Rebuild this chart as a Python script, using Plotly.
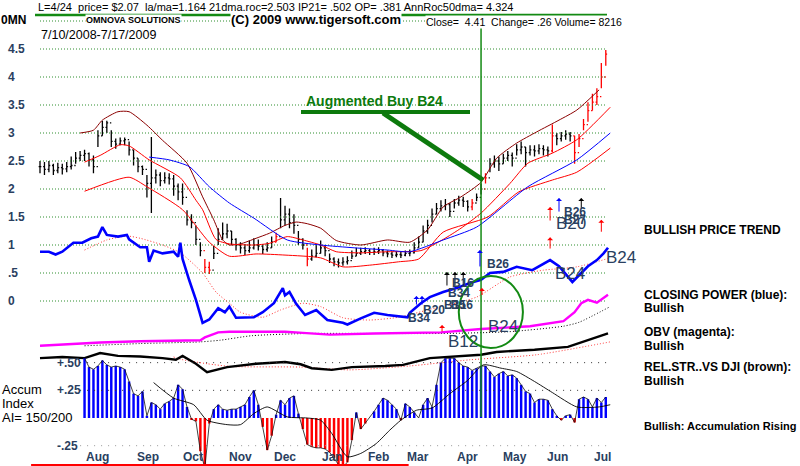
import plotly.graph_objects as go

# ---------------- data ----------------
bar_days = list(range(0, 256, 2))
closes = [2.40,2.35,2.42,2.33,2.38,2.36,2.40,2.42,2.55,2.60,
          2.63,2.52,2.40,2.95,3.10,3.18,2.85,2.80,2.86,2.88,
          2.70,2.55,2.40,2.35,2.10,2.20,2.25,2.15,2.20,2.18,
          2.05,1.95,1.85,1.45,1.40,1.10,0.90,0.60,0.55,0.85,
          1.10,1.20,1.25,1.10,1.00,0.95,0.90,0.95,1.00,0.98,
          0.92,0.95,1.05,1.15,1.45,1.55,1.40,1.35,1.10,1.00,
          0.75,0.80,0.85,0.95,0.90,0.75,0.70,0.68,0.70,0.72,
          0.80,0.85,0.88,0.90,0.87,0.88,0.90,0.86,0.84,0.82,
          0.83,0.82,0.85,0.86,0.95,1.05,1.25,1.35,1.55,1.65,
          1.70,1.72,1.60,1.75,1.80,1.78,1.68,1.75,1.85,2.00,
          2.20,2.45,2.50,2.45,2.55,2.60,2.55,2.70,2.75,2.65,
          2.70,2.68,2.72,2.70,2.68,2.95,2.90,2.95,2.98,2.95,
          2.65,2.90,3.15,3.40,3.55,3.65,4.00,4.41]
highs = [2.50,2.48,2.50,2.45,2.47,2.45,2.48,2.58,2.66,2.68,
         2.70,2.65,2.60,3.05,3.22,3.22,3.05,2.90,2.92,2.92,
         2.85,2.70,2.55,2.42,2.25,2.93,2.35,2.30,2.30,2.28,
         2.25,2.10,2.10,1.62,1.55,1.35,1.05,0.75,0.70,0.98,
         1.30,1.40,1.38,1.25,1.12,1.05,1.02,1.08,1.12,1.10,
         1.02,1.05,1.15,1.22,1.84,1.70,1.65,1.55,1.25,1.12,
         0.95,0.92,1.00,1.08,1.00,0.85,0.78,0.76,0.78,0.80,
         0.90,0.95,0.95,0.96,0.93,0.95,0.96,0.93,0.90,0.88,
         0.89,0.88,0.90,0.92,1.05,1.15,1.35,1.45,1.65,1.75,
         1.80,1.82,1.75,1.82,1.88,1.86,1.80,1.82,1.92,2.10,
         2.28,2.55,2.60,2.58,2.63,2.68,2.65,2.80,2.85,2.75,
         2.78,2.78,2.80,2.78,2.76,3.15,3.00,3.02,3.05,3.02,
         2.95,2.98,3.25,3.55,3.70,3.80,4.25,4.48]
lows = [2.28,2.25,2.30,2.25,2.28,2.26,2.30,2.35,2.45,2.50,
        2.50,2.40,2.28,2.75,2.95,3.00,2.75,2.72,2.78,2.78,
        2.60,2.42,2.30,2.25,1.85,1.57,2.10,2.05,2.10,2.08,
        1.88,1.80,1.72,1.35,1.30,1.00,0.80,0.50,0.48,0.75,
        1.00,1.10,1.12,1.00,0.90,0.85,0.82,0.86,0.92,0.90,
        0.84,0.88,0.95,1.05,1.30,1.35,1.30,1.20,1.00,0.92,
        0.62,0.72,0.78,0.85,0.80,0.68,0.62,0.60,0.63,0.65,
        0.75,0.80,0.82,0.84,0.82,0.82,0.84,0.80,0.78,0.77,
        0.78,0.77,0.80,0.80,0.85,0.95,1.05,1.20,1.40,1.55,
        1.60,1.62,1.50,1.65,1.70,1.68,1.60,1.62,1.78,1.90,
        2.10,2.30,2.38,2.32,2.45,2.50,2.40,2.60,2.62,2.40,
        2.60,2.58,2.62,2.60,2.58,2.65,2.78,2.85,2.88,2.85,
        2.45,2.75,3.05,3.20,3.40,3.50,3.80,4.20]
red_bar_idx = [37, 38, 53, 60, 97, 100, 115, 120, 121, 122, 123, 124, 125, 126, 127]

upper_band_days = [18,24,28,35,40,48,55,66,73,78,82,85,90,97,103,110,115,120,126,133,144,156,166,174,181,189,198,205,214,223,233,241,251]
upper_band_vals = [3.0,3.05,3.23,3.38,3.38,3.14,2.87,2.46,1.86,1.45,1.09,1.0,1.02,1.12,1.21,1.35,1.41,1.38,1.30,1.08,1.0,1.09,1.05,1.27,1.68,1.86,2.12,2.55,2.82,3.02,3.23,3.41,3.77]
ma21_days = [20,27,36,40,49,63,70,73,79,85,96,103,111,118,126,133,144,156,171,181,189,198,211,219,230,241,256]
ma21_vals = [2.48,2.6,2.79,2.77,2.52,2.2,1.8,1.63,1.1,1.02,1.0,1.03,1.15,1.09,1.0,0.88,0.86,0.88,0.9,1.1,1.3,1.57,2.1,2.46,2.64,2.88,3.46]
lower_band_days = [20,40,48,64,76,85,97,110,126,136,148,161,170,181,201,215,230,241,256]
lower_band_vals = [1.96,2.21,2.04,1.63,1.05,0.8,0.84,0.82,0.77,0.61,0.64,0.7,0.75,1.23,1.5,1.95,2.16,2.3,2.73]
ma50_days = [49,58,67,76,85,96,111,126,141,156,166,181,196,219,241,256]
ma50_vals = [2.57,2.52,2.4,2.04,1.75,1.48,1.09,1.0,0.95,0.91,0.88,1.09,1.32,2.04,2.52,3.0]

cp_days = [0,4,7,10,15,19,23,26,28,30,35,39,40,45,48,49,51,55,60,62,63,64,67,70,73,76,80,83,85,88,
           96,100,105,109,110,112,115,119,124,129,136,138,144,150,156,165,166,171,175,181,187,193,198,202,
           208,214,221,229,233,239,246,250,253,255]
cp_vals = [0.88,0.88,0.83,0.88,1.04,1.04,1.12,1.15,1.32,1.18,1.15,1.18,1.1,0.96,0.96,0.7,0.9,0.85,0.88,0.79,
           1.04,0.75,0.37,0.02,-0.39,-0.33,-0.13,-0.2,-0.1,-0.3,-0.29,-0.2,-0.04,0.23,0.1,0.16,-0.05,-0.25,-0.16,-0.34,
           -0.39,-0.42,-0.31,-0.21,-0.25,-0.29,-0.21,-0.04,0.07,0.16,0.23,0.32,0.38,0.5,0.52,0.61,0.55,0.73,0.62,0.34,
           0.62,0.73,0.85,0.95]
cp_ma_days = [20,30,39,45,55,63,73,79,85,90,100,108,118,126,136,148,161,175,196,211,226,241,256]
cp_ma_vals = [0.91,1.09,1.16,1.12,1.0,0.86,0.5,0.16,-0.04,-0.2,-0.29,-0.16,-0.04,-0.1,-0.3,-0.34,-0.29,-0.15,0.07,0.43,0.55,0.61,0.77]

obv_days = [0,15,27,45,72,74,77,80,85,100,110,118,130,150,170,180,198,220,235,240,243,246,250,253,255]
obv_vals = [-0.8,-0.77,-0.74,-0.72,-0.7,-0.65,-0.6,-0.56,-0.55,-0.55,-0.55,-0.57,-0.6,-0.58,-0.57,-0.56,-0.5,-0.45,-0.36,-0.2,-0.04,0.02,-0.03,0.05,0.11]
obv_ma_days = [20,45,72,81,95,120,150,180,210,235,242,256]
obv_ma_vals = [-0.8,-0.76,-0.73,-0.7,-0.62,-0.58,-0.58,-0.58,-0.55,-0.45,-0.38,-0.1]

rs_days = [0,10,20,27,35,45,55,61,64,70,75,84,97,110,117,122,131,140,155,163,175,183,198,205,222,237,244,252,255]
rs_vals = [-1.02,-1.0,-1.02,-0.93,-0.98,-0.99,-1.02,-1.05,-0.98,-1.12,-1.27,-1.18,-1.12,-1.09,-1.13,-1.2,-1.23,-1.18,-1.16,-1.14,-1.02,-1.0,-0.96,-0.91,-0.87,-0.82,-0.73,-0.62,-0.58]
rs_ma_days = [60,63,75,86,117,139,166,193,223,256]
rs_ma_vals = [-1.0,-1.04,-1.12,-1.17,-1.18,-1.23,-1.16,-1.05,-0.96,-0.73]

accum_days = bar_days[10:]
accum_vals = [0.54,0.46,0.44,0.47,0.52,0.48,0.46,0.47,0.46,0.44,
              0.33,0.22,0.2,0.24,0.02,0.14,0.12,0.08,0.13,0.15,
              0.18,0.3,0.26,0.1,-0.01,-0.03,-0.3,-0.45,-0.05,0.08,
              0.12,0.08,0.07,0.08,0.08,0.1,0.12,0.19,0.25,0.12,
              -0.08,-0.29,-0.16,0.03,0.16,0.12,0.18,0.2,0.04,-0.1,
              -0.24,-0.26,-0.27,-0.27,-0.28,-0.31,-0.36,-0.42,-0.44,-0.4,
              -0.2,0.05,-0.1,-0.05,0.0,0.06,0.12,0.18,0.16,0.12,
              0.08,-0.02,0.13,0.1,0.05,0.0,0.12,0.18,0.1,0.3,
              0.5,0.54,0.54,0.54,0.5,0.47,0.46,0.43,0.45,0.47,
              0.47,0.42,0.37,0.4,0.42,0.38,0.39,0.36,0.3,0.24,
              0.22,0.14,0.17,0.17,0.16,0.08,0.02,-0.02,0.02,0.03,
              -0.04,0.17,0.19,0.17,0.1,0.18,0.14,0.19]
accum_ma_days = [51,60,69,75,84,90,96,102,111,120,126,131,138,144,151,157,162,169,176,184,192,199,207,214,222,230,241,251,256]
accum_ma_vals = [0.32,0.18,0.12,-0.02,-0.06,-0.06,0.04,0.1,0.01,0,-0.02,-0.14,-0.35,-0.32,-0.23,-0.11,-0.02,0.07,0.09,0.22,0.34,0.48,0.45,0.42,0.33,0.23,0.1,0.1,0.12]

price_grid = [5.0,4.5,4.0,3.5,3.0,2.5,2.0,1.5,1.0,0.5,0.0]
price_ticks = [4.5,4.0,3.5,3.0,2.5,2.0,1.5,1.0,0.5,0.0]
price_tick_text = ["4.5","4","3.5","3","2.5","2","1.5","1",".5","0"]
accum_ticks = [0.5,0.25,-0.25]
accum_tick_text = ["+.50","+.25","-.25"]
month_days = [26,48.5,68.7,89.8,110,131.5,151.8,169.7,191.7,213.3,232.2,252.6]
month_names = ["Aug","Sep","Oct","Nov","Dec","Jan","Feb","Mar","Apr","May","Jun","Jul"]

signal_day = 198
arrow_days = [182.7,186.3,190,169,171.5,197.5,198.4,180.5,229,229,233,243,252]
arrow_tips = [0.52,0.52,0.52,0.09,0.09,0.91,0.23,-0.43,1.68,1.14,1.84,1.84,1.45]
arrow_tails = [0.25,0.25,0.25,-0.09,-0.09,0.59,0.08,-0.57,1.41,0.91,1.57,1.62,1.21]
arrow_colors = ["black","black","black","blue","blue","blue","red","red","red","red","blue","black","red"]
small_sig_text = ["B34","B20","B34","B16","B15","B16","B26","B26","B27"]
small_sig_days = [170,177,188,190,186.5,189.5,205.6,240,240]
small_sig_vals = [-0.30,-0.16,0.14,0.32,-0.07,-0.07,0.66,1.59,1.45]
big_sig_text = ["B24","B24","B12","B24","B20"]
big_sig_days = [238,208,190,261,238.4]
big_sig_vals = [0.5,-0.46,-0.73,0.77,1.39]

# ---------------- geometry helpers ----------------
W, H = 800, 466
PX_PER_DAY = 2.2275
X0 = -40 / PX_PER_DAY
XR = [X0, X0 + W / PX_PER_DAY]
YR = [301/56 - H/56, 301/56]
Y2R = [418/110.7 - H/110.7, 418/110.7]
def px(X): return X / W
def py(Y): return 1 - Y / H

FONT = "Liberation Sans, Arial, sans-serif"
GREEN = "#138a13"

fig = go.Figure()

# grid lines
for v in price_grid:
    fig.add_trace(go.Scatter(x=[bar_days[0], bar_days[-1]], y=[v, v], mode="lines",
                             line=dict(color="#2f8f2f", width=1, dash="1px,2px"), hoverinfo="skip"))
for v in accum_ticks:
    fig.add_trace(go.Scatter(x=[accum_days[0] - 2, accum_days[-1] + 2], y=[v, v], mode="lines", yaxis="y2",
                             line=dict(color="#333" if v > 0 else "#999", width=1, dash="1px,6px"), hoverinfo="skip"))

def line(xs, ys, color, width, dash=None, axis="y"):
    fig.add_trace(go.Scatter(x=xs, y=ys, mode="lines", yaxis=axis,
                             line=dict(color=color, width=width, dash=dash, shape="spline", smoothing=0.6),
                             hoverinfo="skip"))

line(upper_band_days, upper_band_vals, "#8b0000", 1)
line(ma21_days, ma21_vals, "#ff0000", 1)
line(lower_band_days, lower_band_vals, "#ff0000", 1)
line(ma50_days, ma50_vals, "#0000ff", 1)

# price bars
blk = [i for i in range(len(bar_days)) if i not in red_bar_idx]
opens = [closes[0]] + closes[:-1]
for idx, col in ((blk, "black"), (red_bar_idx, "#ff0000")):
    fig.add_trace(go.Ohlc(x=[bar_days[i] for i in idx], open=[opens[i] for i in idx],
                          high=[highs[i] for i in idx], low=[lows[i] for i in idx],
                          close=[closes[i] for i in idx], tickwidth=0.3,
                          increasing=dict(line=dict(color=col, width=1.3)),
                          decreasing=dict(line=dict(color=col, width=1.3)), hoverinfo="skip"))

# indicators
line(cp_ma_days, cp_ma_vals, "#ff3030", 1, "1px,2px")
fig.add_trace(go.Scatter(x=cp_days, y=cp_vals, mode="lines", line=dict(color="#0000ff", width=2.6), hoverinfo="skip"))
line(obv_ma_days, obv_ma_vals, "black", 1, "1px,2px")
fig.add_trace(go.Scatter(x=obv_days, y=obv_vals, mode="lines", line=dict(color="#ff00ff", width=2.4), hoverinfo="skip"))
line(rs_ma_days, rs_ma_vals, "#ff3030", 1, "1px,2px")
fig.add_trace(go.Scatter(x=rs_days, y=rs_vals, mode="lines", line=dict(color="black", width=2.4), hoverinfo="skip"))

# accumulation index
fig.add_trace(go.Bar(x=accum_days, y=accum_vals, yaxis="y2", width=1.1,
                     marker=dict(color=["#0000ff" if v >= 0 else "#ff0000" for v in accum_vals], line=dict(width=0)),
                     hoverinfo="skip"))
fig.add_trace(go.Scatter(x=accum_days, y=accum_vals, yaxis="y2", mode="lines",
                         line=dict(color="#111", width=0.8), hoverinfo="skip"))
fig.add_trace(go.Scatter(x=accum_ma_days, y=accum_ma_vals, yaxis="y2", mode="lines",
                         line=dict(color="black", width=0.9, shape="spline", smoothing=0.6), hoverinfo="skip"))
fig.add_trace(go.Scatter(x=[bar_days[0] - 4, month_days[5] + 34], y=[Y2R[0] + 0.01, Y2R[0] + 0.01], yaxis="y2",
                         mode="lines", line=dict(color="#ff0000", width=2), hoverinfo="skip"))

ann = []
def text(t, X, Y, size=12, bold=False, color="black", xanchor="left", bg=None):
    ann.append(dict(text=t, x=px(X), y=py(Y), xref="paper", yref="paper", xanchor=xanchor, yanchor="middle",
                    showarrow=False, bgcolor=bg, borderpad=0,
                    font=dict(family=FONT, size=size, color=color, weight="bold" if bold else "normal")))

text("L=4/24  price= $2.07  la/ma=1.164 21dma.roc=2.503 IP21= .502 OP= .381 AnnRoc50dma= 4.324", 37, 7, 11)
text("0MN", 0, 20, 12, True, bg="white")
text("OMNOVA SOLUTIONS", 85, 20, 9, True, bg="white")
text("(C) 2009 www.tigersoft.com", 230, 20, 13, True, bg="white")
text("Close=  4.41  Change= .26 Volume= 8216", 425, 22, 10.5, bg="white")
text("7/10/2008-7/17/2009", 40, 35, 12.5)
text("Augmented Buy B24", 305, 101, 14, True, color="#0d7a0d")
text("BULLISH PRICE TREND", 643, 230, 12, True)
text("CLOSING POWER (blue):", 643, 295, 12, True)
text("Bullish", 643, 308, 12, True)
text("OBV (magenta):", 643, 332, 12, True)
text("Bullish", 643, 346, 12, True)
text("REL.STR..VS DJI (brown):", 643, 367, 12, True)
text("Bullish", 643, 381, 12, True)
text("Bullish: Accumulation Rising", 643, 426, 11, True)
text("Accum", 1, 389, 13)
text("Index", 1, 403, 13)
text("AI= 150/200", 1, 417, 13)

for v, t in zip(price_ticks, price_tick_text):
    ann.append(dict(text=t, x=px(6), y=v, xref="paper", yref="y", xanchor="left", yanchor="middle",
                    showarrow=False, font=dict(family=FONT, size=12, weight="bold")))
for v, t in zip(accum_ticks, accum_tick_text):
    ann.append(dict(text=t, x=px(55), y=v, xref="paper", yref="y2", xanchor="left", yanchor="middle",
                    showarrow=False, font=dict(family=FONT, size=12, weight="bold")))
for d, t in zip(month_days, month_names):
    ann.append(dict(text=t, x=d, y=py(457), xref="x", yref="paper", xanchor="center", yanchor="middle",
                    showarrow=False, font=dict(family=FONT, size=12, weight="bold")))

for d, tip, tail, c in zip(arrow_days, arrow_tips, arrow_tails, arrow_colors):
    ann.append(dict(x=d, y=tip, ax=d, ay=tail, xref="x", yref="y", axref="x", ayref="y", text="",
                    showarrow=True, arrowhead=1, arrowsize=1, arrowwidth=1, arrowcolor=c))
for d, v, t in zip(small_sig_days, small_sig_vals, small_sig_text):
    ann.append(dict(text=t, x=d, y=v, xref="x", yref="y", showarrow=False,
                    font=dict(family=FONT, size=12, weight="bold")))
for d, v, t in zip(big_sig_days, big_sig_vals, big_sig_text):
    ann.append(dict(text=t, x=d, y=v, xref="x", yref="y", showarrow=False,
                    font=dict(family=FONT, size=17)))

shapes = [
    dict(type="line", xref="paper", yref="paper", x0=px(35), x1=px(607), y0=py(15), y1=py(15),
         line=dict(color=GREEN, width=2.5)),
    dict(type="line", xref="x", yref="y", x0=signal_day, x1=signal_day, y0=(301 - 25) / 56, y1=(301 - 417) / 56,
         line=dict(color=GREEN, width=1.5)),
    dict(type="circle", xref="x", yref="y", x0=188, x1=216.8, y0=-0.84, y1=0.446,
         line=dict(color=GREEN, width=2)),
    dict(type="line", xref="paper", yref="paper", x0=px(301), x1=px(470), y0=py(112), y1=py(112),
         line=dict(color="#0d7a0d", width=4)),
    dict(type="line", xref="paper", yref="paper", x0=px(383), x1=px(483), y0=py(113), y1=py(180),
         line=dict(color="#0d7a0d", width=5)),
]

fig.update_layout(
    width=W, height=H, margin=dict(l=0, r=0, t=0, b=0),
    paper_bgcolor="white", plot_bgcolor="white", showlegend=False, barmode="overlay",
    xaxis=dict(range=XR, visible=False, rangeslider=dict(visible=False), fixedrange=True),
    yaxis=dict(range=YR, visible=False, fixedrange=True),
    yaxis2=dict(range=Y2R, visible=False, overlaying="y", fixedrange=True),
    annotations=ann, shapes=shapes,
)
fig.write_html("out.html")
